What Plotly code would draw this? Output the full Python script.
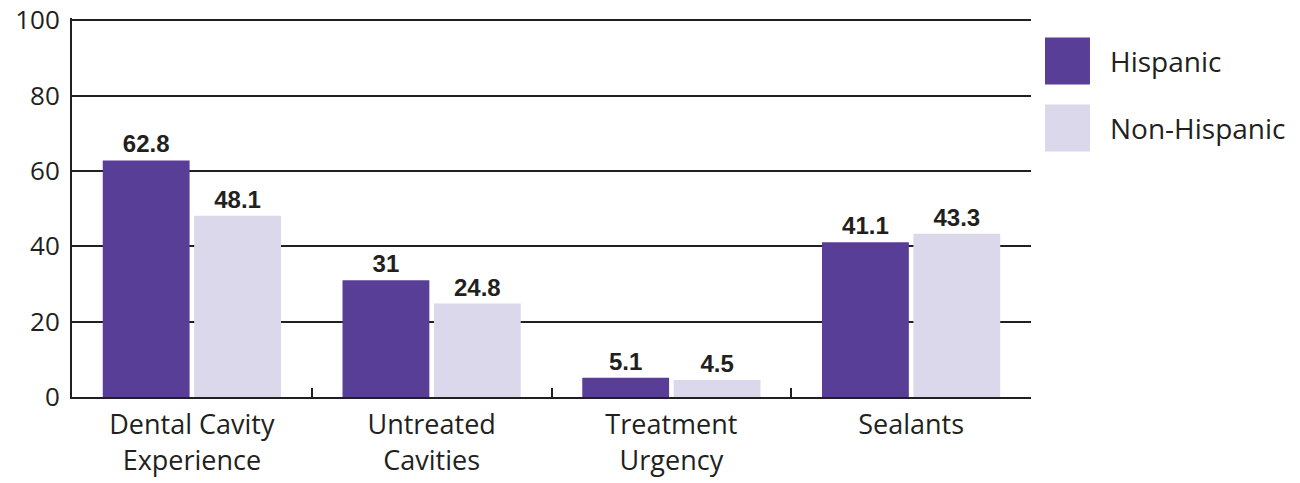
import plotly.graph_objects as go

categories = ["Dental Cavity<br>Experience", "Untreated<br>Cavities", "Treatment<br>Urgency", "Sealants"]
hispanic = [62.8, 31, 5.1, 41.1]
non_hispanic = [48.1, 24.8, 4.5, 43.3]
series_names = ["Hispanic", "Non-Hispanic"]
y_ticks = [0, 20, 40, 60, 80, 100]

colors = ["#593e97", "#dcd8eb"]
line_col = "#231f20"
font_fam = "Open Sans, Noto Sans, sans-serif"

fig = go.Figure()
for name, vals, col in zip(series_names, [hispanic, non_hispanic], colors):
    fig.add_trace(go.Bar(
        x=categories, y=vals, name=name, marker_color=col, marker_line_width=0,
        text=[f"{v:g}" for v in vals], textposition="outside", constraintext="none",
        textfont=dict(family="Liberation Sans, Arial, sans-serif", size=24, color=line_col, weight="bold"),
        cliponaxis=False, showlegend=False,
    ))

# page has an 8px body margin, so the figure is drawn 8px right/down
fig.update_layout(
    width=1292, height=475,
    margin=dict(l=64, r=269, t=10, b=86),
    paper_bgcolor="white", plot_bgcolor="white",
    barmode="group", bargap=0.2375, bargroupgap=0.05,
    font=dict(family=font_fam, color=line_col),
)
fig.update_xaxes(
    automargin=False,
    showline=True, linecolor=line_col, linewidth=2,
    ticks="inside", tickson="boundaries", ticklen=9, tickwidth=2, tickcolor=line_col,
    tickfont=dict(size=27, family=font_fam, color=line_col),
    ticklabelstandoff=3,
    showgrid=False,
)
fig.update_yaxes(
    automargin=False,
    range=[0, 100.6], tickmode="array", tickvals=y_ticks, ticktext=[str(v) for v in y_ticks],
    showline=True, linecolor=line_col, linewidth=2,
    showgrid=True, gridcolor=line_col, gridwidth=2, zeroline=False,
    ticks="", ticklabelstandoff=5, ticklabeloverflow="allow",
    tickfont=dict(size=26, family=font_fam, color=line_col),
)

# custom legend
leg_y = [0.8865, 0.7098]
for name, col, yy in zip(series_names, colors, leg_y):
    fig.add_shape(type="rect", xref="paper", yref="paper",
                  x0=1.0146, x1=1.0615, y0=yy - 0.062, y1=yy + 0.062,
                  fillcolor=col, line_width=0)
    fig.add_annotation(xref="paper", yref="paper", x=1.08, y=yy, text=name,
                       showarrow=False, xanchor="left", yanchor="middle",
                       font=dict(size=28, family=font_fam, color=line_col))

fig.write_html("out.html")
